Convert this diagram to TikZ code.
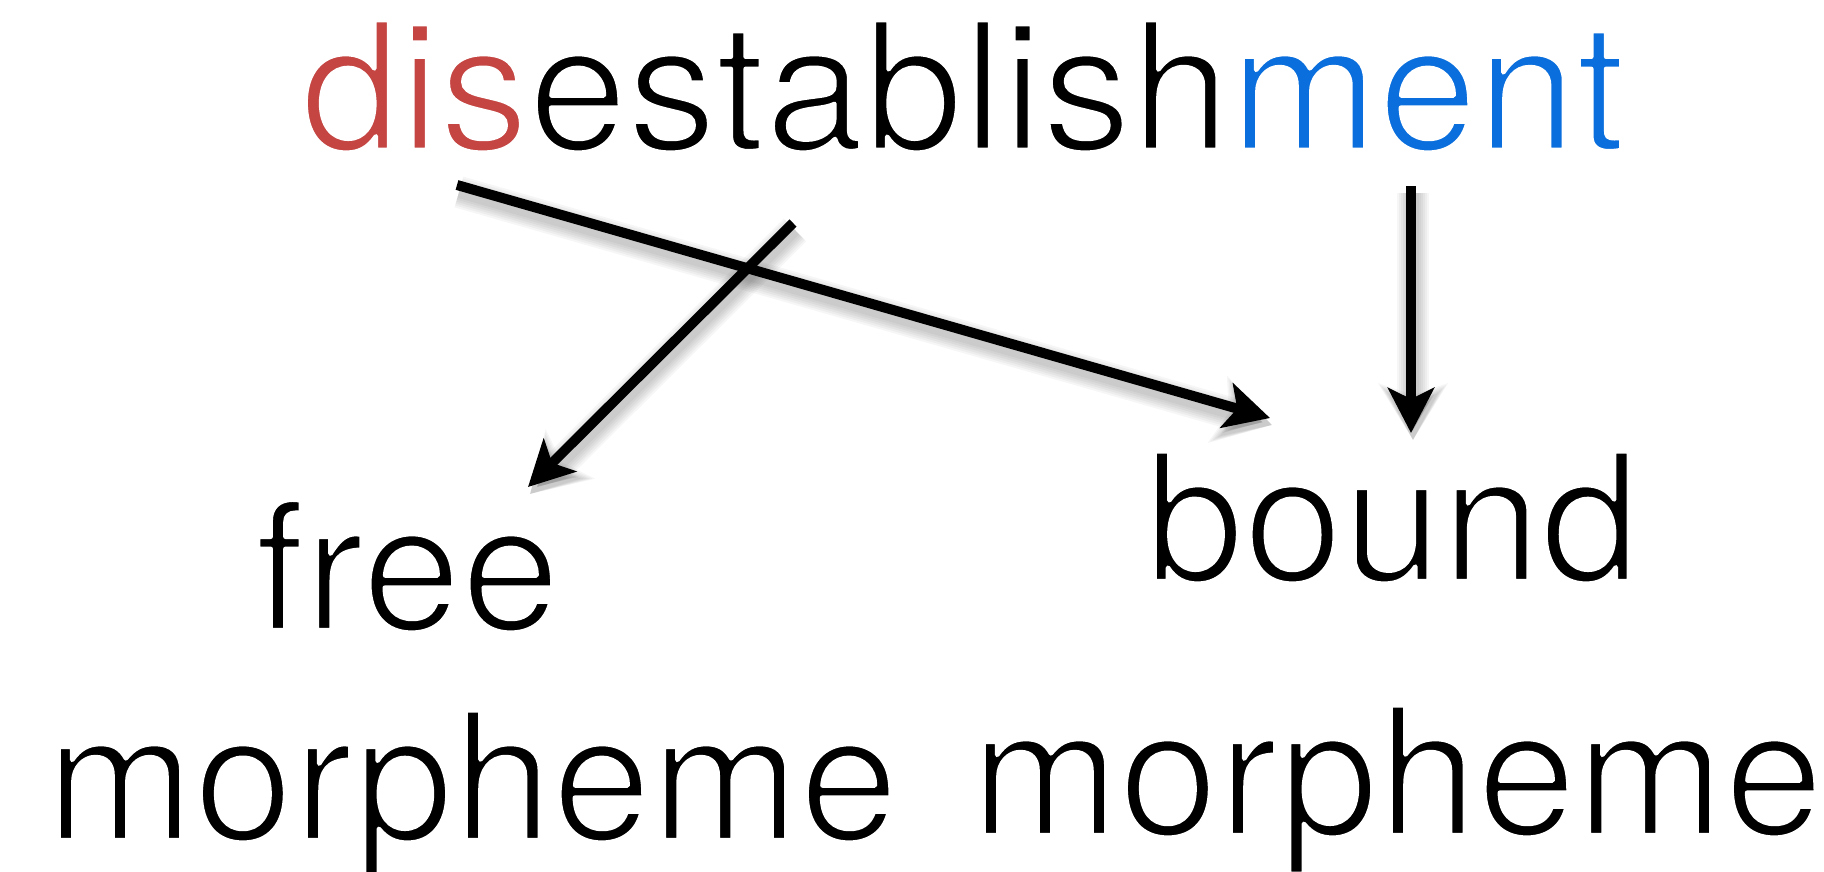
\documentclass[tikz,border=0pt]{standalone}
\usepackage{fontspec}
\setmainfont{TeX Gyre Heros}
\usetikzlibrary{arrows.meta}
\definecolor{prefixred}{HTML}{C44542}
\definecolor{suffixblue}{HTML}{0A6EDD}
% light weight: a white outline eats a little into each glyph
\newcommand{\lightink}[2]{{\color{#1}\special{pdf:literal direct 2 Tr 4.5 w 1 j 1 1 1 RG}#2\special{pdf:literal direct 0 Tr}}}
\tikzset{
  word/.style={anchor=base west, inner sep=0pt, outer sep=0pt,
    font=\fontsize{178}{200}\selectfont},
  link/.style={line width=10pt,
    -{Stealth[length=45pt,width=46pt,inset=11pt]}},
  haze/.style={line width=10pt+2*#1, black, opacity=0.035,
    -{Stealth[length=45pt+#1,width=46pt+2*#1,inset=11pt]}}
}
\newcommand{\shadowedlink}[2]{%
  \foreach \k in {1pt,3pt,5pt,7pt,9pt,11pt}{%
    \draw[haze=\k] ([shift={(2,7)}]#1) -- ([shift={(2,7)}]#2);}
  \draw[link] (#1) -- (#2);}
\begin{document}
\begin{tikzpicture}[x=1pt,y=-1pt]
  \useasboundingbox (0,0) rectangle (1824,871);
  \fill[white] (0,0) rectangle (1824,871);

  % words
  \node[word] (word) at (301,150)
    {\lightink{prefixred}{dis}\lightink{black}{establish}\lightink{suffixblue}{ment}};
  \node[word] (free) at (255,630) {\lightink{black}{free}};
  \node[word] (bound) at (1145,581) {\lightink{black}{bound}};
  \node[word] (freem) at (46,840) {\lightink{black}{morpheme}};
  \node[word] (boundm) at (971,835) {\lightink{black}{morpheme}};

  % arrow end points
  \coordinate (disfrom) at (457,185);
  \coordinate (disto) at (1270,418);
  \coordinate (stemfrom) at (793,223);
  \coordinate (stemto) at (528,487);
  \coordinate (mentfrom) at (1411,186);
  \coordinate (mentto) at (1411,433);

  \shadowedlink{disfrom}{disto}
  \shadowedlink{stemfrom}{stemto}
  \shadowedlink{mentfrom}{mentto}
\end{tikzpicture}
\end{document}
